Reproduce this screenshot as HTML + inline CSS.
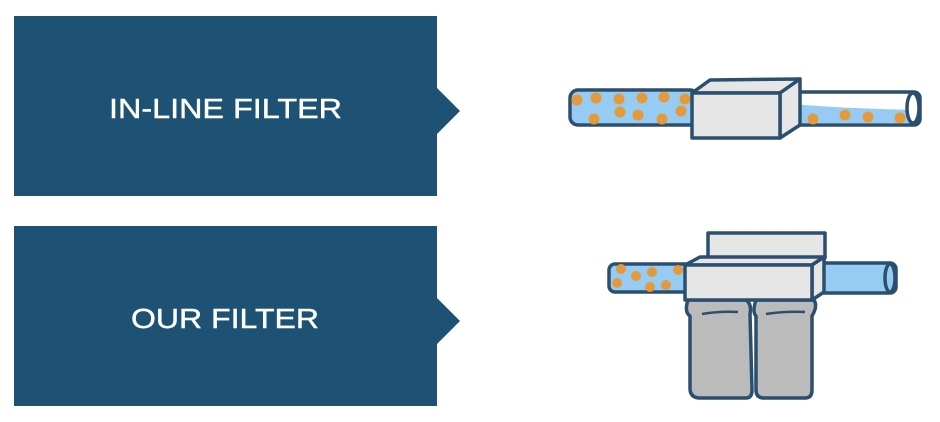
<!DOCTYPE html>
<html><head><meta charset="utf-8"><style>html,body{margin:0;padding:0;background:#fff}svg{display:block}</style></head>
<body>
<svg width="940" height="422" viewBox="0 0 940 422" xmlns="http://www.w3.org/2000/svg">
<g fill="#1d5274">
<polygon points="14,16 437,16 437,88 460,111 437,134 437,196 14,196"/>
<polygon points="14,226 437,226 437,298 460,321 437,344 437,406 14,406"/>
</g>
<g fill="#fff" font-family="Liberation Sans, sans-serif" font-size="28" stroke="#fff" stroke-width="0.4">
<text x="109" y="118" textLength="233" lengthAdjust="spacingAndGlyphs">IN-LINE FILTER</text>
<text x="131" y="328" textLength="188" lengthAdjust="spacingAndGlyphs">OUR FILTER</text>
</g>
<g stroke="#2b4f6e" stroke-width="3.5" stroke-linejoin="round">
<rect x="570" y="90" width="128" height="35" rx="8" fill="#96ccf3"/>
<g fill="#e39a3a" stroke="none">
<circle cx="577" cy="100" r="5.5"/><circle cx="596" cy="98" r="5.5"/><circle cx="619" cy="99" r="5.5"/><circle cx="642" cy="98" r="5.5"/><circle cx="664" cy="97" r="5.5"/><circle cx="685" cy="99" r="5.5"/>
<circle cx="594" cy="119" r="5.5"/><circle cx="620" cy="112" r="5.5"/><circle cx="638" cy="115" r="5.5"/><circle cx="662" cy="119" r="5.5"/><circle cx="681" cy="111" r="5.5"/>
</g>
<rect x="778" y="92" width="142" height="33" rx="6" fill="#fff"/>
<path d="M782 103 Q830 108 915 110 L915 123 L782 123 Z" fill="#96ccf3" stroke="none"/>
<g fill="#e39a3a" stroke="none"><circle cx="792" cy="108" r="5.5"/><circle cx="813" cy="119" r="5.5"/><circle cx="845" cy="115" r="5.5"/><circle cx="868" cy="117" r="5.5"/><circle cx="900" cy="118" r="5.5"/></g>
<ellipse cx="913" cy="108" rx="6" ry="15" fill="#fff"/>
<polygon points="692,93 710,80 800,79 780,93" fill="#e6e6e6"/>
<polygon points="780,93 800,79 800,125 780,138" fill="#e6e6e6"/>
<rect x="692" y="93" width="88" height="45" fill="#e6e6e6"/>

<rect x="708" y="233" width="117" height="25" fill="#e6e6e6"/>
<rect x="609" y="264" width="82" height="28" rx="6" fill="#96ccf3"/>
<g fill="#e39a3a" stroke="none"><circle cx="621" cy="269" r="5"/><circle cx="617" cy="283" r="5"/><circle cx="636" cy="276" r="5"/><circle cx="652" cy="272" r="5"/><circle cx="650" cy="287" r="5"/><circle cx="666" cy="285" r="5"/><circle cx="678" cy="270" r="5"/></g>
<rect x="808" y="263" width="88" height="30" rx="6" fill="#96ccf3"/>
<ellipse cx="890" cy="278" rx="5" ry="14" fill="#96ccf3"/>
<path d="M688 300 Q684 312 690 316 L690 388 Q690 398 700 398 L746 398 Q752 398 752 390 L750 314 Q752 304 746 300 Z" fill="#bbbbbb"/>
<path d="M756 300 Q752 312 756 316 L756 390 Q756 398 764 398 L805 398 Q812 398 812 390 L812 316 Q818 306 814 300 Z" fill="#bbbbbb"/>
<path d="M702 314 Q720 311 738 312 M766 314 Q786 311 805 312" fill="none" stroke-width="2.5"/>
<polygon points="685,265 700,257 824,257 812,265" fill="#e6e6e6"/>
<polygon points="812,265 824,257 824,292 812,300" fill="#e6e6e6"/>
<rect x="685" y="265" width="127" height="35" fill="#e6e6e6"/>
</g>
</svg>
</body></html>
